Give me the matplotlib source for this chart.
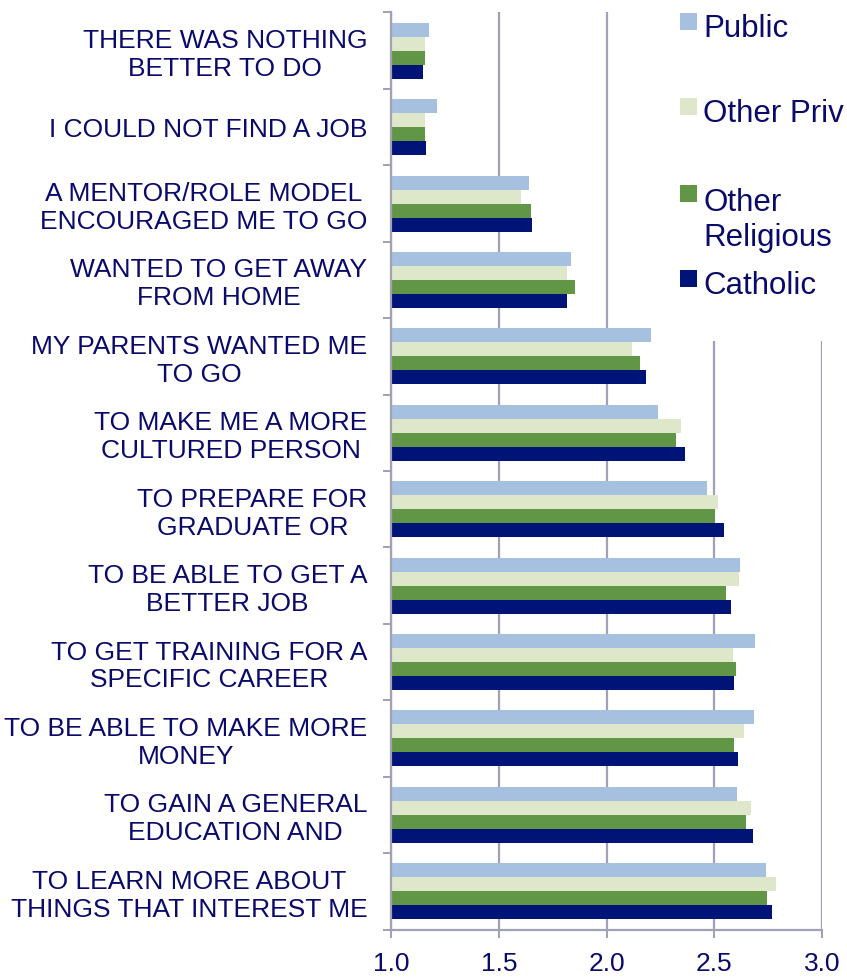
import matplotlib
matplotlib.use('Agg')
import matplotlib.pyplot as plt
from matplotlib.patches import Rectangle
import numpy as np

# reasons, top to bottom
categories = [
    'THERE WAS NOTHING\nBETTER TO DO',
    'I COULD NOT FIND A JOB',
    'A MENTOR/ROLE MODEL\nENCOURAGED ME TO GO',
    'WANTED TO GET AWAY\nFROM HOME',
    'MY PARENTS WANTED ME\nTO GO',
    'TO MAKE ME A MORE\nCULTURED PERSON',
    'TO PREPARE FOR\nGRADUATE OR',
    'TO BE ABLE TO GET A\nBETTER JOB',
    'TO GET TRAINING FOR A\nSPECIFIC CAREER',
    'TO BE ABLE TO MAKE MORE\nMONEY',
    'TO GAIN A GENERAL\nEDUCATION AND',
    'TO LEARN MORE ABOUT\nTHINGS THAT INTEREST ME',
]

public = [1.175, 1.212, 1.641, 1.835, 2.205, 2.240, 2.468, 2.621, 2.691, 2.683, 2.607, 2.742]
other_priv = [1.158, 1.158, 1.604, 1.816, 2.119, 2.347, 2.517, 2.613, 2.585, 2.638, 2.671, 2.787]
other_religious = [1.160, 1.160, 1.649, 1.852, 2.155, 2.322, 2.502, 2.553, 2.601, 2.593, 2.646, 2.746]
catholic = [1.147, 1.163, 1.656, 1.819, 2.184, 2.362, 2.544, 2.576, 2.593, 2.608, 2.678, 2.768]

series_names = ['Public', 'Other Priv', 'Other\nReligious', 'Catholic']
x_ticks = [1.0, 1.5, 2.0, 2.5, 3.0]

text_color = '#0A0A6B'
line_color = '#A0A0B6'
colors = ['#A6C1E0', '#DEE7CA', '#609646', '#001478']

plt.rcParams['font.family'] = ['Liberation Sans', 'DejaVu Sans']

W, H = 847, 980
fig = plt.figure(figsize=(W / 100, H / 100), dpi=100)
ax = fig.add_axes([391 / W, 1 - 929.5 / H, (822 - 391) / W, (929.5 - 12.5) / H])

series = [public, other_priv, other_religious, catholic]
idx = np.arange(len(categories))
h = 0.183
for k, (vals, col) in enumerate(zip(series, colors)):
    ax.barh(idx + (k - 1.5) * h, vals, height=h, color=col, zorder=2)

ax.set_xlim(1.0, 3.0)
ax.set_ylim(len(categories) - 0.5, -0.5)

ax.set_xticks(x_ticks)
ax.set_xticklabels(['%.1f' % t for t in x_ticks])
ax.set_yticks(idx)
ax.set_yticklabels(categories, multialignment='center')
ax.set_yticks(np.arange(len(categories) + 1) - 0.5, minor=True)

ax.tick_params(axis='x', colors=line_color, labelcolor=text_color, labelsize=19,
               length=6, width=1.4, pad=10)
ax.tick_params(axis='y', which='major', length=0, labelcolor=text_color, labelsize=19, pad=17)
ax.tick_params(axis='y', which='minor', colors=line_color, length=6, width=1.4)

for side in ['top', 'right']:
    ax.spines[side].set_visible(False)
for side in ['left', 'bottom']:
    ax.spines[side].set_color(line_color)
    ax.spines[side].set_linewidth(1.6)

ax.xaxis.grid(True, color=line_color, linewidth=1.6, zorder=0)
ax.set_axisbelow(True)

# legend block drawn by hand (white box hides the grid behind it)
fig.patches.append(Rectangle((660 / W, 1 - 341 / H), (W - 660) / W, 341 / H,
                             transform=fig.transFigure, facecolor='white',
                             edgecolor='none', zorder=1))
line_px = 1.2 * 22.5 * 100 / 72
baselines = [36.5, 121.5, 208, 293.5]  # baseline of the first line, px from top
for name, col, base in zip(series_names, colors, baselines):
    fig.patches.append(Rectangle((680 / W, 1 - (base - 6) / H), 17 / W, 17 / H,
                                 transform=fig.transFigure, facecolor=col,
                                 edgecolor='none', zorder=2))
    last = base + name.count('\n') * line_px
    fig.text(703 / W, 1 - last / H, name, fontsize=22.5, color=text_color,
             va='baseline', ha='left', zorder=3)

fig.savefig('out.png', dpi=100)
